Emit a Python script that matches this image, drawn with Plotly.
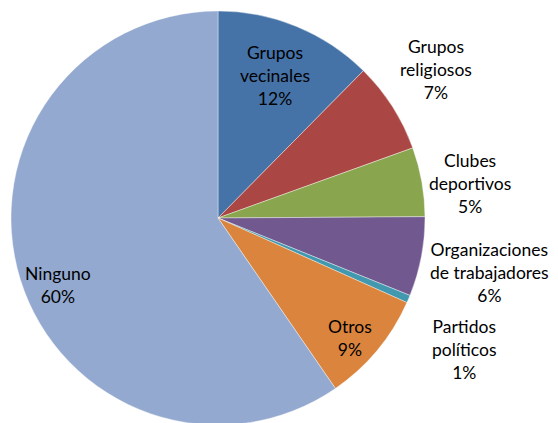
import plotly.graph_objects as go

labels = ['Grupos vecinales', 'Grupos religiosos', 'Clubes deportivos',
          'Organizaciones de trabajadores', 'Partidos políticos', 'Otros', 'Ninguno']
values = [12.4, 7.1, 5.4, 6.2, 0.6, 8.7, 59.6]
colors = ['#4572A7', '#AA4643', '#89A54E', '#71588F', '#4198AF', '#DB843D', '#93A9CF']

# label text split into lines, and where each label sits (pixels in the 558x423 image)
label_lines = ['Grupos<br>vecinales', 'Grupos<br>religiosos', 'Clubes<br>deportivos',
               'Organizaciones<br>de trabajadores', 'Partidos<br>políticos', 'Otros', 'Ninguno']
label_pos = [(275, 75), (436, 70), (470, 184), (489, 272), (464, 349), (350, 338), (58, 285)]

W, H = 558, 423
OFF = 8  # page body margin shifts the figure
total = sum(values)

fig = go.Figure(go.Pie(
    labels=labels, values=values,
    marker=dict(colors=colors, line=dict(color='white', width=0.4)),
    sort=False, direction='clockwise', rotation=0,
    textinfo='none', hoverinfo='label+percent',
    domain=dict(x=[3 / W, 417 / W], y=[6 / H, 420 / H]),
    showlegend=False,
))

for name, v, (px_, py_) in zip(label_lines, values, label_pos):
    fig.add_annotation(
        x=(px_ - OFF) / W, y=1 - (py_ - OFF) / H, xref='paper', yref='paper',
        xanchor='center', yanchor='middle',
        text=f'{name}<br>{round(v / total * 100)}%',
        showarrow=False, align='center',
        font=dict(family='Lato', size=17.5, color='#000000'),
    )

fig.update_layout(
    width=W, height=H,
    margin=dict(l=0, r=0, t=0, b=0),
    paper_bgcolor='white', plot_bgcolor='white',
)

fig.write_html('out.html')
